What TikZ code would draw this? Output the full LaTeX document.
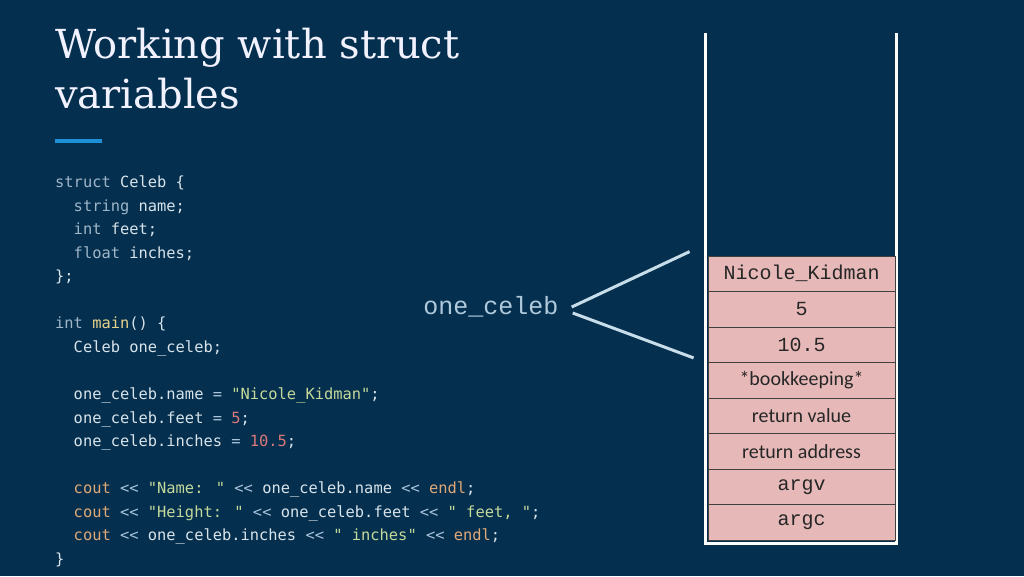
\documentclass[tikz,border=0pt]{standalone}
\usepackage{fontspec}
\setmainfont{DejaVu Serif}
\newfontfamily\codefont{DejaVu Sans Mono}
\newfontfamily\cellmonofont{Liberation Mono}
\newfontfamily\cellsansfont{Carlito}
\definecolor{slidebg}{RGB}{4,47,78}
\definecolor{codetxt}{HTML}{D8E3EA}
\definecolor{kwcol}{HTML}{9FB6C9}
\definecolor{strcol}{HTML}{C5D99B}
\definecolor{numcol}{HTML}{D9787A}
\definecolor{iocol}{HTML}{DFA877}
\definecolor{fncol}{HTML}{E5D38C}
\definecolor{opcol}{HTML}{A9C3DB}
\definecolor{rulecol}{HTML}{1E90D8}
\definecolor{lblcol}{HTML}{AFC9DC}
\definecolor{linkcol}{HTML}{C8DDEA}
\definecolor{cellpink}{HTML}{E6B9B8}
\newcommand\ckw[1]{\textcolor{kwcol}{#1}}
\newcommand\cstr[1]{\textcolor{strcol}{#1}}
\newcommand\cnum[1]{\textcolor{numcol}{#1}}
\newcommand\cio[1]{\textcolor{iocol}{#1}}
\newcommand\cfn[1]{\textcolor{fncol}{#1}}
\newcommand\cop[1]{\textcolor{opcol}{#1}}
\newcommand\cm{\cellmonofont\fontsize{20}{20}\selectfont}
\newcommand\cs{\cellsansfont\fontsize{20}{20}\selectfont}
\tikzset{
  codeline/.style={anchor=base west, inner sep=0, text=codetxt, font=\codefont\fontsize{15.4}{15.4}\selectfont},
  titleline/.style={anchor=base west, inner sep=0, text=white!95!blue, font=\fontsize{40}{40}\selectfont},
  cell/.style={draw=black!75, line width=0.8pt, fill=cellpink, minimum width=187pt, minimum height=35.5pt, inner sep=0, text=black!85},
  link/.style={linkcol, line width=3pt}
}
\begin{document}
\begin{tikzpicture}[x=1pt,y=-1pt]
    \fill[slidebg] (0,0) rectangle (1024,576);
    % title
    \node[titleline] (title1) at (55,58) {Working with struct};
    \node[titleline] (title2) at (55,108) {variables};
    \fill[rulecol] (55,139) rectangle (102,143);
    % code
    \foreach \r/\c/\txt in {
        0/0/{\ckw{struct} Celeb \{},
        1/2/{\ckw{string} name;},
        2/2/{\ckw{int} feet;},
        3/2/{\ckw{float} inches;},
        4/0/{\};},
        6/0/{\ckw{int} \cfn{main}() \{},
        7/2/{Celeb one\_celeb;},
        9/2/{one\_celeb.name \cop{=} \cstr{"Nicole\_Kidman"};},
        10/2/{one\_celeb.feet \cop{=} \cnum{5};},
        11/2/{one\_celeb.inches \cop{=} \cnum{10.5};},
        13/2/{\cio{cout} \cop{<<} \cstr{"Name: "} \cop{<<} one\_celeb.name \cop{<<} \cio{endl};},
        14/2/{\cio{cout} \cop{<<} \cstr{"Height: "} \cop{<<} one\_celeb.feet \cop{<<} \cstr{" feet, "};},
        15/2/{\cio{cout} \cop{<<} one\_celeb.inches \cop{<<} \cstr{" inches"} \cop{<<} \cio{endl};},
        16/0/{\}}}
        \node[codeline] (code\r) at ({55+9.27*\c},{187.5+23.56*\r}) {\txt};
    % stack frame
    \draw[white, line width=3pt] (705,33) -- (705,543) -- (896,543) -- (896,33);
    \foreach \name/\txt [count=\i from 0] in {nk/{\cm Nicole\_Kidman}, ft/{\cm 5}, inch/{\cm 10.5},
        bk/{\cs *bookkeeping*}, rv/{\cs return value}, ra/{\cs return address}, av/{\cm argv}, ac/{\cm argc}}
        \node[cell] (\name) at (801.5,{273.75+35.5*\i}) {\txt};
    % variable name
    \node[inner sep=0, text=lblcol, font=\cellmonofont\fontsize{25}{25}\selectfont] (obj) at (491,307) {one\_celeb};
    \draw[link] ([xshift=13pt]obj.east) -- ([xshift=-18pt,yshift=4pt]nk.north west);
    \draw[link] ([xshift=14pt,yshift=-6pt]obj.east) -- ([xshift=-14pt,yshift=5pt]inch.south west);
\end{tikzpicture}
\end{document}
